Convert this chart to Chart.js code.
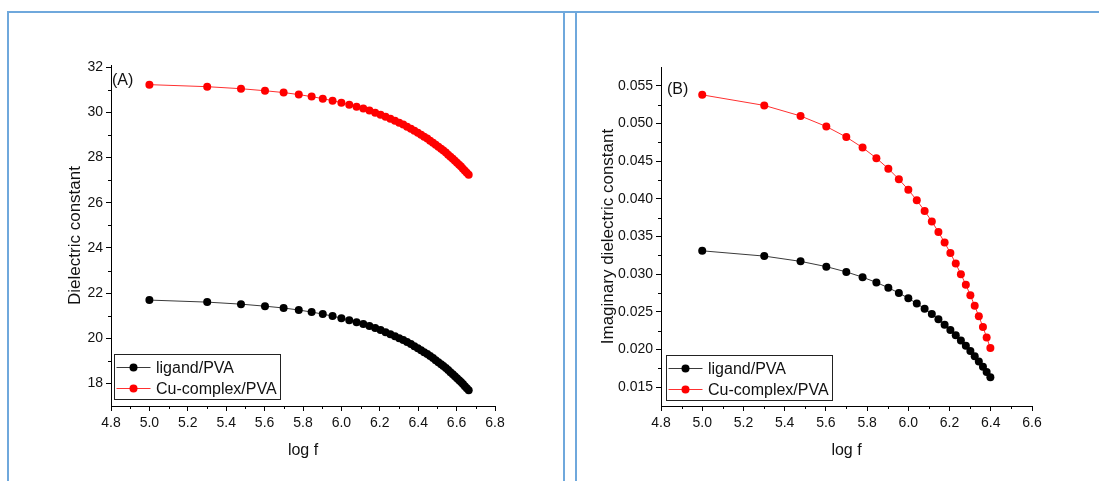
<!DOCTYPE html>
<html>
<head>
<meta charset="utf-8">
<title>Dielectric constant vs log f</title>
<script src="https://cdn.jsdelivr.net/npm/chart.js@4.4.1/dist/chart.umd.min.js"></script>
<style>
  html, body { margin: 0; padding: 0; background: #fff; }
  body { width: 1099px; height: 481px; position: relative; overflow: hidden; }
  .frame { position: absolute; background: #6fa8dc; }
  #chartA { position: absolute; left: 0; top: 0; }
  #chartB { position: absolute; left: 560px; top: 0; }
</style>
</head>
<body>
<div class="frame" style="left:8px; top:11px; width:1091px; height:2px"></div>
<div class="frame" style="left:7px; top:11px; width:2px; height:470px"></div>
<div class="frame" style="left:563px; top:11px; width:2px; height:470px"></div>
<div class="frame" style="left:575px; top:11px; width:2px; height:470px"></div>
<canvas id="chartA" width="560" height="481"></canvas>
<canvas id="chartB" width="539" height="481"></canvas>
<script>
var seriesNames = ['ligand/PVA', 'Cu-complex/PVA'];

// (A) real part, f = 0.1 ... 4.6 MHz
var logF_A = [5.000, 5.301, 5.477, 5.602, 5.699, 5.778, 5.845, 5.903, 5.954, 6.000,
              6.041, 6.079, 6.114, 6.146, 6.176, 6.204, 6.230, 6.255, 6.279, 6.301,
              6.322, 6.342, 6.362, 6.380, 6.398, 6.415, 6.431, 6.447, 6.462, 6.477,
              6.491, 6.505, 6.519, 6.531, 6.544, 6.556, 6.568, 6.580, 6.591, 6.602,
              6.613, 6.623, 6.633, 6.643, 6.653, 6.663];
var ligandA = [21.69, 21.60, 21.51, 21.42, 21.34, 21.25, 21.16, 21.07, 20.98, 20.89,
               20.80, 20.71, 20.63, 20.54, 20.45, 20.36, 20.27, 20.18, 20.09, 20.00,
               19.92, 19.83, 19.74, 19.65, 19.56, 19.47, 19.38, 19.30, 19.21, 19.12,
               19.03, 18.94, 18.85, 18.77, 18.68, 18.59, 18.50, 18.41, 18.32, 18.23,
               18.14, 18.06, 17.97, 17.88, 17.79, 17.70];
var cuA = [31.23, 31.14, 31.05, 30.96, 30.88, 30.79, 30.70, 30.61, 30.52, 30.43,
           30.34, 30.25, 30.17, 30.08, 29.99, 29.90, 29.81, 29.72, 29.63, 29.54,
           29.46, 29.37, 29.28, 29.19, 29.10, 29.01, 28.92, 28.84, 28.75, 28.66,
           28.57, 28.48, 28.39, 28.31, 28.22, 28.13, 28.04, 27.95, 27.86, 27.77,
           27.68, 27.60, 27.51, 27.42, 27.33, 27.24];

// (B) imaginary part, f = 0.1 ... 2.5 MHz
var logF_B = [5.000, 5.301, 5.477, 5.602, 5.699, 5.778, 5.845, 5.903, 5.954, 6.000,
              6.041, 6.079, 6.114, 6.146, 6.176, 6.204, 6.230, 6.255, 6.279, 6.301,
              6.322, 6.342, 6.362, 6.380, 6.398];
var ligandB = [0.0331, 0.0324, 0.0317, 0.0310, 0.0303, 0.0296, 0.0289, 0.0282, 0.0275, 0.0268,
               0.0261, 0.0254, 0.0247, 0.0240, 0.0233, 0.0226, 0.0219, 0.0212, 0.0205, 0.0198,
               0.0191, 0.0184, 0.0177, 0.0170, 0.0163];
var cuB = [0.0538, 0.0524, 0.0510, 0.0496, 0.0482, 0.0468, 0.0454, 0.0440, 0.0426, 0.0412,
           0.0398, 0.0384, 0.0370, 0.0356, 0.0342, 0.0328, 0.0314, 0.0300, 0.0286, 0.0272,
           0.0258, 0.0244, 0.0230, 0.0216, 0.0202];

var ticksAX = [4.8, 5.0, 5.2, 5.4, 5.6, 5.8, 6.0, 6.2, 6.4, 6.6, 6.8];
var ticksAY = [18, 20, 22, 24, 26, 28, 30, 32];
var ticksBX = [4.8, 5.0, 5.2, 5.4, 5.6, 5.8, 6.0, 6.2, 6.4, 6.6];
var ticksBY = [0.015, 0.020, 0.025, 0.030, 0.035, 0.040, 0.045, 0.050, 0.055];

var FONT = '"Liberation Sans", Arial, sans-serif';
Chart.defaults.font.family = FONT;
Chart.defaults.color = '#111';

function pairs(xs, ys) {
  return xs.map(function (x, i) { return { x: x, y: ys[i] }; });
}

// small ticks halfway between the labelled ones
var minorTicks = {
  id: 'minorTicks',
  afterDraw: function (chart) {
    var ctx = chart.ctx;
    ctx.save();
    ctx.strokeStyle = '#000';
    ctx.lineWidth = 1;
    ['x', 'y'].forEach(function (id) {
      var s = chart.scales[id];
      for (var i = 0; i < s.ticks.length - 1; i++) {
        var p = Math.round(s.getPixelForValue((s.ticks[i].value + s.ticks[i + 1].value) / 2)) + 0.5;
        ctx.beginPath();
        if (id === 'x') { ctx.moveTo(p, s.top); ctx.lineTo(p, s.top + 3); }
        else { ctx.moveTo(s.right, p); ctx.lineTo(s.right - 3, p); }
        ctx.stroke();
      }
    });
    ctx.restore();
  }
};

// framed legend inside the lower left corner of the plot
var boxLegend = {
  id: 'boxLegend',
  afterDraw: function (chart, args, opts) {
    var ctx = chart.ctx, area = chart.chartArea;
    var left = Math.round(area.left + opts.dx), top = Math.round(area.bottom - opts.dy);
    ctx.save();
    ctx.font = '16px ' + FONT;
    var widest = 0;
    chart.data.datasets.forEach(function (ds) {
      widest = Math.max(widest, ctx.measureText(ds.label).width);
    });
    ctx.strokeStyle = '#222';
    ctx.lineWidth = 1;
    ctx.strokeRect(left + 0.5, top + 0.5, Math.round(widest + 45), 45);
    chart.data.datasets.forEach(function (ds, i) {
      var y = top + 13.5 + i * 21;
      ctx.strokeStyle = ds.borderColor;
      ctx.lineWidth = ds.borderWidth;
      ctx.beginPath(); ctx.moveTo(left + 2.5, y); ctx.lineTo(left + 36.5, y); ctx.stroke();
      ctx.fillStyle = ds.pointBackgroundColor;
      ctx.beginPath(); ctx.arc(left + 19.5, y, ds.pointRadius, 0, Math.PI * 2); ctx.fill();
      ctx.fillStyle = '#111';
      ctx.textBaseline = 'middle';
      ctx.fillText(ds.label, left + 42, y + 1);
    });
    ctx.restore();
  }
};

var panelTag = {
  id: 'panelTag',
  afterDraw: function (chart, args, opts) {
    var ctx = chart.ctx, area = chart.chartArea;
    ctx.save();
    ctx.font = '16px ' + FONT;
    ctx.fillStyle = '#111';
    ctx.textBaseline = 'middle';
    ctx.fillText(opts.text, area.left + opts.dx, area.top + opts.dy);
    ctx.restore();
  }
};

function axis(min, max, tickList, fmt, title, yAxis, yWidth, titlePad) {
  return {
    type: 'linear',
    min: min,
    max: max,
    afterBuildTicks: function (s) { s.ticks = tickList.map(function (v) { return { value: v }; }); },
    afterFit: function (s) { if (yAxis) s.width = yWidth; else s.height = 75; },
    grid: { drawOnChartArea: false, drawTicks: true, tickLength: 5, color: '#000' },
    border: { display: true, color: '#000', width: 1 },
    ticks: {
      padding: yAxis ? 3 : 4,
      color: '#111',
      font: { size: 14 },
      maxRotation: 0,
      autoSkip: false,
      callback: function (v) { return v.toFixed(fmt); }
    },
    title: {
      display: true,
      text: title,
      color: '#111',
      font: { size: yAxis ? 17 : 16 },
      padding: yAxis ? { top: titlePad, bottom: 0 } : { top: 0, bottom: 21 }
    }
  };
}

function makeChart(id, xs, black, red, x, y, padding, tag, legendPos) {
  return new Chart(document.getElementById(id), {
    type: 'scatter',
    data: {
      datasets: [{
        label: seriesNames[0],
        data: pairs(xs, black),
        showLine: true,
        borderColor: '#3a3a3a',
        borderWidth: 1,
        pointBackgroundColor: '#000',
        pointBorderColor: '#000',
        pointRadius: 4,
        pointBorderWidth: 0
      }, {
        label: seriesNames[1],
        data: pairs(xs, red),
        showLine: true,
        borderColor: '#ff3030',
        borderWidth: 1,
        pointBackgroundColor: '#ff0000',
        pointBorderColor: '#ff0000',
        pointRadius: 4,
        pointBorderWidth: 0
      }]
    },
    options: {
      responsive: false,
      animation: false,
      events: [],
      layout: { padding: padding },
      scales: { x: x, y: y },
      plugins: {
        legend: { display: false },
        tooltip: { enabled: false },
        panelTag: tag,
        boxLegend: legendPos
      }
    },
    plugins: [minorTicks, boxLegend, panelTag]
  });
}

makeChart('chartA', logF_A, ligandA, cuA,
  axis(4.8, 6.8, ticksAX, 1, 'log f', false),
  axis(17, 32.1, ticksAY, 0, 'Dielectric constant', true, 111, 65),
  { left: 0, top: 65, right: 65, bottom: 0 },
  { text: '(A)', dx: 1, dy: 16 },
  { dx: 3, dy: 52 });

makeChart('chartB', logF_B, ligandB, cuB,
  axis(4.8, 6.6, ticksBX, 1, 'log f', false),
  axis(0.0125, 0.0575, ticksBY, 3, 'Imaginary dielectric constant', true, 101, 38),
  { left: 0, top: 67, right: 67, bottom: 0 },
  { text: '(B)', dx: 6, dy: 23 },
  { dx: 5, dy: 51 });
</script>
</body>
</html>
